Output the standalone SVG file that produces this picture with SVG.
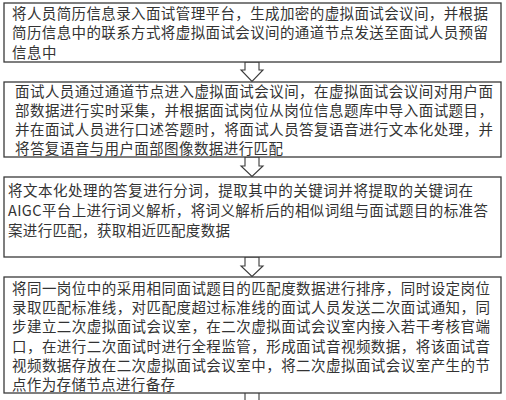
<svg xmlns="http://www.w3.org/2000/svg" width="506" height="400" viewBox="0 0 506 400">
<style>
.box{fill:#fff;stroke:#3a3a3a;stroke-width:1.3}
.arr{fill:#fff;stroke:#3a3a3a;stroke-width:1.1;stroke-linejoin:miter}
text{font-family:"Noto Sans CJK SC","Noto Sans",sans-serif;font-size:14.5px;fill:#333}
</style>
<rect width="506" height="400" fill="#fff"/>
<g id="connectors">
<polygon class="arr" points="245,62 259,62 259,70 263,70 252,81.5 241,70 245,70"/>
<polygon class="arr" points="245,157 259,157 259,166 263,166 252,176.5 241,166 245,166"/>
<polygon class="arr" points="245,257 259,257 259,266 263,266 252,276.5 241,266 245,266"/>
<path class="arr" d="M245,393 V401 M259,393 V401" fill="none"/>
</g>
<g id="step1">
<rect class="box" x="4" y="3" width="497" height="59"/>
<text x="12" y="18.5" textLength="476" lengthAdjust="spacing">将人员简历信息录入面试管理平台，生成加密的虚拟面试会议间，并根据</text>
<text x="12" y="38" textLength="476" lengthAdjust="spacing">简历信息中的联系方式将虚拟面试会议间的通道节点发送至面试人员预留</text>
<text x="12" y="57.5" textLength="44.6" lengthAdjust="spacing">信息中</text>
</g>
<g id="step2">
<rect class="box" x="4" y="82" width="497" height="75"/>
<text x="15" y="97" textLength="478" lengthAdjust="spacing">面试人员通过通道节点进入虚拟面试会议间，在虚拟面试会议间对用户面</text>
<text x="15" y="116" textLength="478" lengthAdjust="spacing">部数据进行实时采集，并根据面试岗位从岗位信息题库中导入面试题目，</text>
<text x="15" y="135" textLength="478" lengthAdjust="spacing">并在面试人员进行口述答题时，将面试人员答复语音进行文本化处理，并</text>
<text x="15" y="154" textLength="268" lengthAdjust="spacing">将答复语音与用户面部图像数据进行匹配</text>
</g>
<g id="step3">
<rect class="box" x="4" y="177" width="497" height="80"/>
<text x="8" y="196" textLength="465" lengthAdjust="spacing">将文本化处理的答复进行分词，提取其中的关键词并将提取的关键词在</text>
<text x="8" y="216" textLength="480" lengthAdjust="spacing">AIGC平台上进行词义解析，将词义解析后的相似词组与面试题目的标准答</text>
<text x="8" y="236" textLength="222" lengthAdjust="spacing">案进行匹配，获取相近匹配度数据</text>
</g>
<g id="step4">
<rect class="box" x="4" y="277" width="497" height="116"/>
<text x="12" y="294" textLength="478" lengthAdjust="spacing">将同一岗位中的采用相同面试题目的匹配度数据进行排序，同时设定岗位</text>
<text x="12" y="313.2" textLength="478" lengthAdjust="spacing">录取匹配标准线，对匹配度超过标准线的面试人员发送二次面试通知，同</text>
<text x="12" y="332.4" textLength="478" lengthAdjust="spacing">步建立二次虚拟面试会议室，在二次虚拟面试会议室内接入若干考核官端</text>
<text x="12" y="351.6" textLength="478" lengthAdjust="spacing">口，在进行二次面试时进行全程监管，形成面试音视频数据，将该面试音</text>
<text x="12" y="370.8" textLength="478" lengthAdjust="spacing">视频数据存放在二次虚拟面试会议室中，将二次虚拟面试会议室产生的节</text>
<text x="12" y="390" textLength="163" lengthAdjust="spacing">点作为存储节点进行备存</text>
</g>
</svg>
